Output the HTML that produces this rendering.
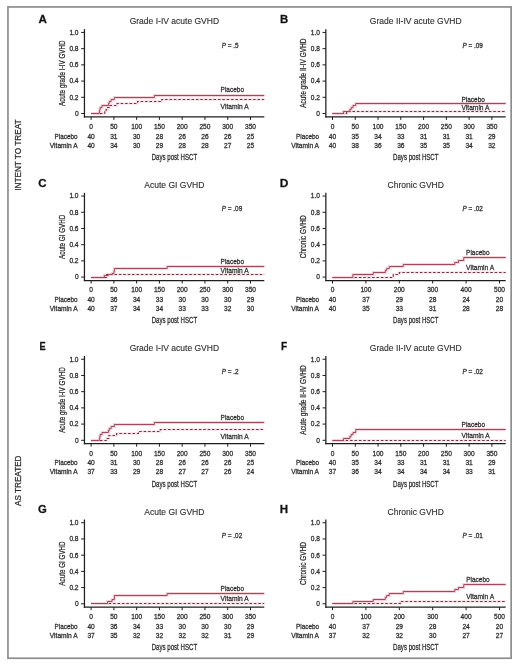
<!DOCTYPE html>
<html><head><meta charset="utf-8"><style>html,body{margin:0;padding:0;background:#fff;width:520px;height:665px;overflow:hidden}svg{display:block;will-change:transform}text{font-family:"Liberation Sans",sans-serif;stroke:#2e2e2e;stroke-width:0.26px;paint-order:stroke}.ti{stroke-width:0.12px}</style></head>
<body><svg width="520" height="665" viewBox="0 0 520 665" font-family="Liberation Sans, sans-serif" fill="#2e2e2e"><rect x="7.95" y="6.95" width="503.2" height="651.3" fill="none" stroke="#8d8d8d" stroke-width="1.7"/><text x="0.00" y="0.00" font-size="10.9" text-anchor="start" font-weight="bold" fill="#111" transform="translate(38.56,23.10) scale(1.068,1)">A</text><text x="174.38" y="24.40" font-size="8.52" text-anchor="middle" class="ti">Grade I-IV acute GVHD</text><line x1="84.45" y1="29.20" x2="84.45" y2="117.50" stroke="#1e1e1e" stroke-width="1.25"/><line x1="83.85" y1="116.90" x2="264.30" y2="116.90" stroke="#1e1e1e" stroke-width="1.25"/><line x1="81.15" y1="113.50" x2="84.45" y2="113.50" stroke="#1e1e1e" stroke-width="1.0"/><text x="78.55" y="115.85" font-size="6.6" text-anchor="end">0</text><line x1="81.15" y1="97.29" x2="84.45" y2="97.29" stroke="#1e1e1e" stroke-width="1.0"/><text x="78.55" y="99.64" font-size="6.6" text-anchor="end">0.2</text><line x1="81.15" y1="81.08" x2="84.45" y2="81.08" stroke="#1e1e1e" stroke-width="1.0"/><text x="78.55" y="83.43" font-size="6.6" text-anchor="end">0.4</text><line x1="81.15" y1="64.87" x2="84.45" y2="64.87" stroke="#1e1e1e" stroke-width="1.0"/><text x="78.55" y="67.22" font-size="6.6" text-anchor="end">0.6</text><line x1="81.15" y1="48.66" x2="84.45" y2="48.66" stroke="#1e1e1e" stroke-width="1.0"/><text x="78.55" y="51.01" font-size="6.6" text-anchor="end">0.8</text><line x1="81.15" y1="32.45" x2="84.45" y2="32.45" stroke="#1e1e1e" stroke-width="1.0"/><text x="78.55" y="34.80" font-size="6.6" text-anchor="end">1.0</text><line x1="91.10" y1="116.90" x2="91.10" y2="119.90" stroke="#1e1e1e" stroke-width="1.0"/><text x="91.10" y="128.80" font-size="6.6" text-anchor="middle">0</text><line x1="113.87" y1="116.90" x2="113.87" y2="119.90" stroke="#1e1e1e" stroke-width="1.0"/><text x="113.87" y="128.80" font-size="6.6" text-anchor="middle">50</text><line x1="136.64" y1="116.90" x2="136.64" y2="119.90" stroke="#1e1e1e" stroke-width="1.0"/><text x="136.64" y="128.80" font-size="6.6" text-anchor="middle">100</text><line x1="159.41" y1="116.90" x2="159.41" y2="119.90" stroke="#1e1e1e" stroke-width="1.0"/><text x="159.41" y="128.80" font-size="6.6" text-anchor="middle">150</text><line x1="182.18" y1="116.90" x2="182.18" y2="119.90" stroke="#1e1e1e" stroke-width="1.0"/><text x="182.18" y="128.80" font-size="6.6" text-anchor="middle">200</text><line x1="204.95" y1="116.90" x2="204.95" y2="119.90" stroke="#1e1e1e" stroke-width="1.0"/><text x="204.95" y="128.80" font-size="6.6" text-anchor="middle">250</text><line x1="227.72" y1="116.90" x2="227.72" y2="119.90" stroke="#1e1e1e" stroke-width="1.0"/><text x="227.72" y="128.80" font-size="6.6" text-anchor="middle">300</text><line x1="250.49" y1="116.90" x2="250.49" y2="119.90" stroke="#1e1e1e" stroke-width="1.0"/><text x="250.49" y="128.80" font-size="6.6" text-anchor="middle">350</text><text x="91.10" y="138.60" font-size="6.6" text-anchor="middle">40</text><text x="91.10" y="147.50" font-size="6.6" text-anchor="middle">40</text><text x="113.87" y="138.60" font-size="6.6" text-anchor="middle">31</text><text x="113.87" y="147.50" font-size="6.6" text-anchor="middle">34</text><text x="136.64" y="138.60" font-size="6.6" text-anchor="middle">30</text><text x="136.64" y="147.50" font-size="6.6" text-anchor="middle">30</text><text x="159.41" y="138.60" font-size="6.6" text-anchor="middle">28</text><text x="159.41" y="147.50" font-size="6.6" text-anchor="middle">29</text><text x="182.18" y="138.60" font-size="6.6" text-anchor="middle">26</text><text x="182.18" y="147.50" font-size="6.6" text-anchor="middle">28</text><text x="204.95" y="138.60" font-size="6.6" text-anchor="middle">26</text><text x="204.95" y="147.50" font-size="6.6" text-anchor="middle">28</text><text x="227.72" y="138.60" font-size="6.6" text-anchor="middle">26</text><text x="227.72" y="147.50" font-size="6.6" text-anchor="middle">27</text><text x="250.49" y="138.60" font-size="6.6" text-anchor="middle">25</text><text x="250.49" y="147.50" font-size="6.6" text-anchor="middle">25</text><text x="77.60" y="138.60" font-size="6.8" text-anchor="end" textLength="23.0" lengthAdjust="spacingAndGlyphs">Placebo</text><text x="77.60" y="147.50" font-size="6.8" text-anchor="end" textLength="27.8" lengthAdjust="spacingAndGlyphs">Vitamin A</text><text x="174.38" y="159.80" font-size="8.4" text-anchor="middle" textLength="45.5" lengthAdjust="spacingAndGlyphs">Days post HSCT</text><text x="0.00" y="0.00" font-size="8.3" text-anchor="middle" textLength="65.7" lengthAdjust="spacingAndGlyphs" transform="translate(64.50,73.20) rotate(-90)">Acute grade I-IV GVHD</text><text x="221.80" y="47.50" font-size="6.4"><tspan font-style="italic">P</tspan> = .5</text><path d="M91.10,113.50 L104.76,113.50 L104.76,111.50 L106.13,111.50 L106.13,109.50 L107.49,109.50 L107.49,107.50 L109.77,107.50 L109.77,105.50 L117.06,105.50 L117.06,103.50 L137.55,103.50 L137.55,101.50 L161.69,101.50 L161.69,99.50 L264.30,99.50" fill="none" stroke="#f9e1e6" stroke-width="2.6"/><path d="M91.10,113.50 L99.30,113.50 L99.30,111.50 L99.75,111.50 L99.75,109.50 L100.21,109.50 L100.21,107.50 L102.03,107.50 L102.03,105.50 L108.41,105.50 L108.41,103.50 L109.32,103.50 L109.32,101.50 L111.14,101.50 L111.14,99.50 L114.33,99.50 L114.33,97.50 L154.40,97.50 L154.40,95.50 L264.30,95.50" fill="none" stroke="#f6d2da" stroke-width="2.8"/><path d="M91.10,113.50 L104.76,113.50 L104.76,111.50 L106.13,111.50 L106.13,109.50 L107.49,109.50 L107.49,107.50 L109.77,107.50 L109.77,105.50 L117.06,105.50 L117.06,103.50 L137.55,103.50 L137.55,101.50 L161.69,101.50 L161.69,99.50 L264.30,99.50" fill="none" stroke="#6e3446" stroke-width="1.05" stroke-dasharray="2.5,1.9"/><path d="M91.10,113.50 L99.30,113.50 L99.30,111.50 L99.75,111.50 L99.75,109.50 L100.21,109.50 L100.21,107.50 L102.03,107.50 L102.03,105.50 L108.41,105.50 L108.41,103.50 L109.32,103.50 L109.32,101.50 L111.14,101.50 L111.14,99.50 L114.33,99.50 L114.33,97.50 L154.40,97.50 L154.40,95.50 L264.30,95.50" fill="none" stroke="#a2485d" stroke-width="1.0"/><text x="220.60" y="91.90" font-size="7.3" text-anchor="start" textLength="23.4" lengthAdjust="spacingAndGlyphs">Placebo</text><text x="220.60" y="109.10" font-size="7.3" text-anchor="start" textLength="28.0" lengthAdjust="spacingAndGlyphs">Vitamin A</text><text x="0.00" y="0.00" font-size="10.9" text-anchor="start" font-weight="bold" fill="#111" transform="translate(280.09,23.10) scale(1.039,1)">B</text><text x="415.78" y="24.40" font-size="8.52" text-anchor="middle" class="ti">Grade II-IV acute GVHD</text><line x1="325.85" y1="29.20" x2="325.85" y2="117.50" stroke="#1e1e1e" stroke-width="1.25"/><line x1="325.25" y1="116.90" x2="505.70" y2="116.90" stroke="#1e1e1e" stroke-width="1.25"/><line x1="322.55" y1="113.50" x2="325.85" y2="113.50" stroke="#1e1e1e" stroke-width="1.0"/><text x="319.95" y="115.85" font-size="6.6" text-anchor="end">0</text><line x1="322.55" y1="97.29" x2="325.85" y2="97.29" stroke="#1e1e1e" stroke-width="1.0"/><text x="319.95" y="99.64" font-size="6.6" text-anchor="end">0.2</text><line x1="322.55" y1="81.08" x2="325.85" y2="81.08" stroke="#1e1e1e" stroke-width="1.0"/><text x="319.95" y="83.43" font-size="6.6" text-anchor="end">0.4</text><line x1="322.55" y1="64.87" x2="325.85" y2="64.87" stroke="#1e1e1e" stroke-width="1.0"/><text x="319.95" y="67.22" font-size="6.6" text-anchor="end">0.6</text><line x1="322.55" y1="48.66" x2="325.85" y2="48.66" stroke="#1e1e1e" stroke-width="1.0"/><text x="319.95" y="51.01" font-size="6.6" text-anchor="end">0.8</text><line x1="322.55" y1="32.45" x2="325.85" y2="32.45" stroke="#1e1e1e" stroke-width="1.0"/><text x="319.95" y="34.80" font-size="6.6" text-anchor="end">1.0</text><line x1="332.50" y1="116.90" x2="332.50" y2="119.90" stroke="#1e1e1e" stroke-width="1.0"/><text x="332.50" y="128.80" font-size="6.6" text-anchor="middle">0</text><line x1="355.27" y1="116.90" x2="355.27" y2="119.90" stroke="#1e1e1e" stroke-width="1.0"/><text x="355.27" y="128.80" font-size="6.6" text-anchor="middle">50</text><line x1="378.04" y1="116.90" x2="378.04" y2="119.90" stroke="#1e1e1e" stroke-width="1.0"/><text x="378.04" y="128.80" font-size="6.6" text-anchor="middle">100</text><line x1="400.81" y1="116.90" x2="400.81" y2="119.90" stroke="#1e1e1e" stroke-width="1.0"/><text x="400.81" y="128.80" font-size="6.6" text-anchor="middle">150</text><line x1="423.58" y1="116.90" x2="423.58" y2="119.90" stroke="#1e1e1e" stroke-width="1.0"/><text x="423.58" y="128.80" font-size="6.6" text-anchor="middle">200</text><line x1="446.35" y1="116.90" x2="446.35" y2="119.90" stroke="#1e1e1e" stroke-width="1.0"/><text x="446.35" y="128.80" font-size="6.6" text-anchor="middle">250</text><line x1="469.12" y1="116.90" x2="469.12" y2="119.90" stroke="#1e1e1e" stroke-width="1.0"/><text x="469.12" y="128.80" font-size="6.6" text-anchor="middle">300</text><line x1="491.89" y1="116.90" x2="491.89" y2="119.90" stroke="#1e1e1e" stroke-width="1.0"/><text x="491.89" y="128.80" font-size="6.6" text-anchor="middle">350</text><text x="332.50" y="138.60" font-size="6.6" text-anchor="middle">40</text><text x="332.50" y="147.50" font-size="6.6" text-anchor="middle">40</text><text x="355.27" y="138.60" font-size="6.6" text-anchor="middle">35</text><text x="355.27" y="147.50" font-size="6.6" text-anchor="middle">38</text><text x="378.04" y="138.60" font-size="6.6" text-anchor="middle">34</text><text x="378.04" y="147.50" font-size="6.6" text-anchor="middle">36</text><text x="400.81" y="138.60" font-size="6.6" text-anchor="middle">33</text><text x="400.81" y="147.50" font-size="6.6" text-anchor="middle">36</text><text x="423.58" y="138.60" font-size="6.6" text-anchor="middle">31</text><text x="423.58" y="147.50" font-size="6.6" text-anchor="middle">35</text><text x="446.35" y="138.60" font-size="6.6" text-anchor="middle">31</text><text x="446.35" y="147.50" font-size="6.6" text-anchor="middle">35</text><text x="469.12" y="138.60" font-size="6.6" text-anchor="middle">31</text><text x="469.12" y="147.50" font-size="6.6" text-anchor="middle">34</text><text x="491.89" y="138.60" font-size="6.6" text-anchor="middle">29</text><text x="491.89" y="147.50" font-size="6.6" text-anchor="middle">32</text><text x="319.00" y="138.60" font-size="6.8" text-anchor="end" textLength="23.0" lengthAdjust="spacingAndGlyphs">Placebo</text><text x="319.00" y="147.50" font-size="6.8" text-anchor="end" textLength="27.8" lengthAdjust="spacingAndGlyphs">Vitamin A</text><text x="415.78" y="159.80" font-size="8.4" text-anchor="middle" textLength="45.5" lengthAdjust="spacingAndGlyphs">Days post HSCT</text><text x="0.00" y="0.00" font-size="8.3" text-anchor="middle" textLength="69.3" lengthAdjust="spacingAndGlyphs" transform="translate(305.90,73.20) rotate(-90)">Acute grade II-IV GVHD</text><text x="462.40" y="47.50" font-size="6.4"><tspan font-style="italic">P</tspan> = .09</text><path d="M332.50,113.50 L346.62,113.50 L346.62,111.50 L505.70,111.50" fill="none" stroke="#f9e1e6" stroke-width="2.6"/><path d="M332.50,113.50 L343.43,113.50 L343.43,111.50 L349.81,111.50 L349.81,109.50 L351.17,109.50 L351.17,107.50 L352.99,107.50 L352.99,105.50 L355.73,105.50 L355.73,103.50 L505.70,103.50" fill="none" stroke="#f6d2da" stroke-width="2.8"/><path d="M332.50,113.50 L346.62,113.50 L346.62,111.50 L505.70,111.50" fill="none" stroke="#6e3446" stroke-width="1.05" stroke-dasharray="2.5,1.9"/><path d="M332.50,113.50 L343.43,113.50 L343.43,111.50 L349.81,111.50 L349.81,109.50 L351.17,109.50 L351.17,107.50 L352.99,107.50 L352.99,105.50 L355.73,105.50 L355.73,103.50 L505.70,103.50" fill="none" stroke="#a2485d" stroke-width="1.0"/><text x="461.50" y="101.60" font-size="7.3" text-anchor="start" textLength="23.4" lengthAdjust="spacingAndGlyphs">Placebo</text><text x="461.50" y="110.10" font-size="7.3" text-anchor="start" textLength="28.0" lengthAdjust="spacingAndGlyphs">Vitamin A</text><text x="0.00" y="0.00" font-size="10.9" text-anchor="start" font-weight="bold" fill="#111" transform="translate(38.28,186.55) scale(1.055,1)">C</text><text x="174.38" y="188.00" font-size="8.52" text-anchor="middle" class="ti">Acute GI GVHD</text><line x1="84.45" y1="192.80" x2="84.45" y2="281.10" stroke="#1e1e1e" stroke-width="1.25"/><line x1="83.85" y1="280.50" x2="264.30" y2="280.50" stroke="#1e1e1e" stroke-width="1.25"/><line x1="81.15" y1="277.10" x2="84.45" y2="277.10" stroke="#1e1e1e" stroke-width="1.0"/><text x="78.55" y="279.45" font-size="6.6" text-anchor="end">0</text><line x1="81.15" y1="260.89" x2="84.45" y2="260.89" stroke="#1e1e1e" stroke-width="1.0"/><text x="78.55" y="263.24" font-size="6.6" text-anchor="end">0.2</text><line x1="81.15" y1="244.68" x2="84.45" y2="244.68" stroke="#1e1e1e" stroke-width="1.0"/><text x="78.55" y="247.03" font-size="6.6" text-anchor="end">0.4</text><line x1="81.15" y1="228.47" x2="84.45" y2="228.47" stroke="#1e1e1e" stroke-width="1.0"/><text x="78.55" y="230.82" font-size="6.6" text-anchor="end">0.6</text><line x1="81.15" y1="212.26" x2="84.45" y2="212.26" stroke="#1e1e1e" stroke-width="1.0"/><text x="78.55" y="214.61" font-size="6.6" text-anchor="end">0.8</text><line x1="81.15" y1="196.05" x2="84.45" y2="196.05" stroke="#1e1e1e" stroke-width="1.0"/><text x="78.55" y="198.40" font-size="6.6" text-anchor="end">1.0</text><line x1="91.10" y1="280.50" x2="91.10" y2="283.50" stroke="#1e1e1e" stroke-width="1.0"/><text x="91.10" y="292.40" font-size="6.6" text-anchor="middle">0</text><line x1="113.87" y1="280.50" x2="113.87" y2="283.50" stroke="#1e1e1e" stroke-width="1.0"/><text x="113.87" y="292.40" font-size="6.6" text-anchor="middle">50</text><line x1="136.64" y1="280.50" x2="136.64" y2="283.50" stroke="#1e1e1e" stroke-width="1.0"/><text x="136.64" y="292.40" font-size="6.6" text-anchor="middle">100</text><line x1="159.41" y1="280.50" x2="159.41" y2="283.50" stroke="#1e1e1e" stroke-width="1.0"/><text x="159.41" y="292.40" font-size="6.6" text-anchor="middle">150</text><line x1="182.18" y1="280.50" x2="182.18" y2="283.50" stroke="#1e1e1e" stroke-width="1.0"/><text x="182.18" y="292.40" font-size="6.6" text-anchor="middle">200</text><line x1="204.95" y1="280.50" x2="204.95" y2="283.50" stroke="#1e1e1e" stroke-width="1.0"/><text x="204.95" y="292.40" font-size="6.6" text-anchor="middle">250</text><line x1="227.72" y1="280.50" x2="227.72" y2="283.50" stroke="#1e1e1e" stroke-width="1.0"/><text x="227.72" y="292.40" font-size="6.6" text-anchor="middle">300</text><line x1="250.49" y1="280.50" x2="250.49" y2="283.50" stroke="#1e1e1e" stroke-width="1.0"/><text x="250.49" y="292.40" font-size="6.6" text-anchor="middle">350</text><text x="91.10" y="302.20" font-size="6.6" text-anchor="middle">40</text><text x="91.10" y="311.10" font-size="6.6" text-anchor="middle">40</text><text x="113.87" y="302.20" font-size="6.6" text-anchor="middle">36</text><text x="113.87" y="311.10" font-size="6.6" text-anchor="middle">37</text><text x="136.64" y="302.20" font-size="6.6" text-anchor="middle">34</text><text x="136.64" y="311.10" font-size="6.6" text-anchor="middle">34</text><text x="159.41" y="302.20" font-size="6.6" text-anchor="middle">33</text><text x="159.41" y="311.10" font-size="6.6" text-anchor="middle">34</text><text x="182.18" y="302.20" font-size="6.6" text-anchor="middle">30</text><text x="182.18" y="311.10" font-size="6.6" text-anchor="middle">33</text><text x="204.95" y="302.20" font-size="6.6" text-anchor="middle">30</text><text x="204.95" y="311.10" font-size="6.6" text-anchor="middle">33</text><text x="227.72" y="302.20" font-size="6.6" text-anchor="middle">30</text><text x="227.72" y="311.10" font-size="6.6" text-anchor="middle">32</text><text x="250.49" y="302.20" font-size="6.6" text-anchor="middle">29</text><text x="250.49" y="311.10" font-size="6.6" text-anchor="middle">30</text><text x="77.60" y="302.20" font-size="6.8" text-anchor="end" textLength="23.0" lengthAdjust="spacingAndGlyphs">Placebo</text><text x="77.60" y="311.10" font-size="6.8" text-anchor="end" textLength="27.8" lengthAdjust="spacingAndGlyphs">Vitamin A</text><text x="174.38" y="323.40" font-size="8.4" text-anchor="middle" textLength="45.5" lengthAdjust="spacingAndGlyphs">Days post HSCT</text><text x="0.00" y="0.00" font-size="8.3" text-anchor="middle" textLength="44.3" lengthAdjust="spacingAndGlyphs" transform="translate(64.50,236.80) rotate(-90)">Acute GI GVHD</text><text x="221.80" y="211.10" font-size="6.4"><tspan font-style="italic">P</tspan> = .09</text><path d="M91.10,277.50 L106.58,277.50 L106.58,274.50 L264.30,274.50" fill="none" stroke="#f9e1e6" stroke-width="2.6"/><path d="M91.10,277.50 L104.31,277.50 L104.31,275.50 L108.41,275.50 L108.41,274.50 L112.05,274.50 L112.05,273.50 L113.87,273.50 L113.87,271.50 L114.33,271.50 L114.33,268.50 L167.15,268.50 L167.15,266.50 L264.30,266.50" fill="none" stroke="#f6d2da" stroke-width="2.8"/><path d="M91.10,277.50 L106.58,277.50 L106.58,274.50 L264.30,274.50" fill="none" stroke="#6e3446" stroke-width="1.05" stroke-dasharray="2.5,1.9"/><path d="M91.10,277.50 L104.31,277.50 L104.31,275.50 L108.41,275.50 L108.41,274.50 L112.05,274.50 L112.05,273.50 L113.87,273.50 L113.87,271.50 L114.33,271.50 L114.33,268.50 L167.15,268.50 L167.15,266.50 L264.30,266.50" fill="none" stroke="#a2485d" stroke-width="1.0"/><text x="220.60" y="264.20" font-size="7.3" text-anchor="start" textLength="23.4" lengthAdjust="spacingAndGlyphs">Placebo</text><text x="220.60" y="273.40" font-size="7.3" text-anchor="start" textLength="28.0" lengthAdjust="spacingAndGlyphs">Vitamin A</text><text x="0.00" y="0.00" font-size="10.9" text-anchor="start" font-weight="bold" fill="#111" transform="translate(279.65,186.55) scale(1.094,1)">D</text><text x="415.78" y="188.00" font-size="8.52" text-anchor="middle" class="ti">Chronic GVHD</text><line x1="325.85" y1="192.80" x2="325.85" y2="281.10" stroke="#1e1e1e" stroke-width="1.25"/><line x1="325.25" y1="280.50" x2="505.70" y2="280.50" stroke="#1e1e1e" stroke-width="1.25"/><line x1="322.55" y1="277.10" x2="325.85" y2="277.10" stroke="#1e1e1e" stroke-width="1.0"/><text x="319.95" y="279.45" font-size="6.6" text-anchor="end">0</text><line x1="322.55" y1="260.89" x2="325.85" y2="260.89" stroke="#1e1e1e" stroke-width="1.0"/><text x="319.95" y="263.24" font-size="6.6" text-anchor="end">0.2</text><line x1="322.55" y1="244.68" x2="325.85" y2="244.68" stroke="#1e1e1e" stroke-width="1.0"/><text x="319.95" y="247.03" font-size="6.6" text-anchor="end">0.4</text><line x1="322.55" y1="228.47" x2="325.85" y2="228.47" stroke="#1e1e1e" stroke-width="1.0"/><text x="319.95" y="230.82" font-size="6.6" text-anchor="end">0.6</text><line x1="322.55" y1="212.26" x2="325.85" y2="212.26" stroke="#1e1e1e" stroke-width="1.0"/><text x="319.95" y="214.61" font-size="6.6" text-anchor="end">0.8</text><line x1="322.55" y1="196.05" x2="325.85" y2="196.05" stroke="#1e1e1e" stroke-width="1.0"/><text x="319.95" y="198.40" font-size="6.6" text-anchor="end">1.0</text><line x1="332.50" y1="280.50" x2="332.50" y2="283.50" stroke="#1e1e1e" stroke-width="1.0"/><text x="332.50" y="292.40" font-size="6.6" text-anchor="middle">0</text><line x1="365.90" y1="280.50" x2="365.90" y2="283.50" stroke="#1e1e1e" stroke-width="1.0"/><text x="365.90" y="292.40" font-size="6.6" text-anchor="middle">100</text><line x1="399.30" y1="280.50" x2="399.30" y2="283.50" stroke="#1e1e1e" stroke-width="1.0"/><text x="399.30" y="292.40" font-size="6.6" text-anchor="middle">200</text><line x1="432.70" y1="280.50" x2="432.70" y2="283.50" stroke="#1e1e1e" stroke-width="1.0"/><text x="432.70" y="292.40" font-size="6.6" text-anchor="middle">300</text><line x1="466.10" y1="280.50" x2="466.10" y2="283.50" stroke="#1e1e1e" stroke-width="1.0"/><text x="466.10" y="292.40" font-size="6.6" text-anchor="middle">400</text><line x1="499.50" y1="280.50" x2="499.50" y2="283.50" stroke="#1e1e1e" stroke-width="1.0"/><text x="499.50" y="292.40" font-size="6.6" text-anchor="middle">500</text><text x="332.50" y="302.20" font-size="6.6" text-anchor="middle">40</text><text x="332.50" y="311.10" font-size="6.6" text-anchor="middle">40</text><text x="365.90" y="302.20" font-size="6.6" text-anchor="middle">37</text><text x="365.90" y="311.10" font-size="6.6" text-anchor="middle">35</text><text x="399.30" y="302.20" font-size="6.6" text-anchor="middle">29</text><text x="399.30" y="311.10" font-size="6.6" text-anchor="middle">33</text><text x="432.70" y="302.20" font-size="6.6" text-anchor="middle">28</text><text x="432.70" y="311.10" font-size="6.6" text-anchor="middle">31</text><text x="466.10" y="302.20" font-size="6.6" text-anchor="middle">24</text><text x="466.10" y="311.10" font-size="6.6" text-anchor="middle">28</text><text x="499.50" y="302.20" font-size="6.6" text-anchor="middle">20</text><text x="499.50" y="311.10" font-size="6.6" text-anchor="middle">28</text><text x="319.00" y="302.20" font-size="6.8" text-anchor="end" textLength="23.0" lengthAdjust="spacingAndGlyphs">Placebo</text><text x="319.00" y="311.10" font-size="6.8" text-anchor="end" textLength="27.8" lengthAdjust="spacingAndGlyphs">Vitamin A</text><text x="415.78" y="323.40" font-size="8.4" text-anchor="middle" textLength="45.5" lengthAdjust="spacingAndGlyphs">Days post HSCT</text><text x="0.00" y="0.00" font-size="8.3" text-anchor="middle" textLength="42.9" lengthAdjust="spacingAndGlyphs" transform="translate(305.90,236.80) rotate(-90)">Chronic GVHD</text><text x="462.40" y="211.10" font-size="6.4"><tspan font-style="italic">P</tspan> = .02</text><path d="M332.50,277.50 L393.29,277.50 L393.29,274.50 L399.30,274.50 L399.30,272.50 L505.70,272.50" fill="none" stroke="#f9e1e6" stroke-width="2.6"/><path d="M332.50,277.50 L352.87,277.50 L352.87,274.50 L373.25,274.50 L373.25,272.50 L385.27,272.50 L385.27,270.50 L386.61,270.50 L386.61,268.50 L389.28,268.50 L389.28,266.50 L403.31,266.50 L403.31,264.50 L454.74,264.50 L454.74,262.50 L458.42,262.50 L458.42,260.50 L463.76,260.50 L463.76,257.50 L505.70,257.50" fill="none" stroke="#f6d2da" stroke-width="2.8"/><path d="M332.50,277.50 L393.29,277.50 L393.29,274.50 L399.30,274.50 L399.30,272.50 L505.70,272.50" fill="none" stroke="#6e3446" stroke-width="1.05" stroke-dasharray="2.5,1.9"/><path d="M332.50,277.50 L352.87,277.50 L352.87,274.50 L373.25,274.50 L373.25,272.50 L385.27,272.50 L385.27,270.50 L386.61,270.50 L386.61,268.50 L389.28,268.50 L389.28,266.50 L403.31,266.50 L403.31,264.50 L454.74,264.50 L454.74,262.50 L458.42,262.50 L458.42,260.50 L463.76,260.50 L463.76,257.50 L505.70,257.50" fill="none" stroke="#a2485d" stroke-width="1.0"/><text x="466.10" y="255.00" font-size="7.3" text-anchor="start" textLength="23.4" lengthAdjust="spacingAndGlyphs">Placebo</text><text x="466.10" y="270.30" font-size="7.3" text-anchor="start" textLength="28.0" lengthAdjust="spacingAndGlyphs">Vitamin A</text><text x="0.00" y="0.00" font-size="10.9" text-anchor="start" font-weight="bold" fill="#111" transform="translate(39.43,349.60) scale(0.852,1)">E</text><text x="174.38" y="351.20" font-size="8.52" text-anchor="middle" class="ti">Grade I-IV acute GVHD</text><line x1="84.45" y1="356.00" x2="84.45" y2="444.30" stroke="#1e1e1e" stroke-width="1.25"/><line x1="83.85" y1="443.70" x2="264.30" y2="443.70" stroke="#1e1e1e" stroke-width="1.25"/><line x1="81.15" y1="440.30" x2="84.45" y2="440.30" stroke="#1e1e1e" stroke-width="1.0"/><text x="78.55" y="442.65" font-size="6.6" text-anchor="end">0</text><line x1="81.15" y1="424.09" x2="84.45" y2="424.09" stroke="#1e1e1e" stroke-width="1.0"/><text x="78.55" y="426.44" font-size="6.6" text-anchor="end">0.2</text><line x1="81.15" y1="407.88" x2="84.45" y2="407.88" stroke="#1e1e1e" stroke-width="1.0"/><text x="78.55" y="410.23" font-size="6.6" text-anchor="end">0.4</text><line x1="81.15" y1="391.67" x2="84.45" y2="391.67" stroke="#1e1e1e" stroke-width="1.0"/><text x="78.55" y="394.02" font-size="6.6" text-anchor="end">0.6</text><line x1="81.15" y1="375.46" x2="84.45" y2="375.46" stroke="#1e1e1e" stroke-width="1.0"/><text x="78.55" y="377.81" font-size="6.6" text-anchor="end">0.8</text><line x1="81.15" y1="359.25" x2="84.45" y2="359.25" stroke="#1e1e1e" stroke-width="1.0"/><text x="78.55" y="361.60" font-size="6.6" text-anchor="end">1.0</text><line x1="91.10" y1="443.70" x2="91.10" y2="446.70" stroke="#1e1e1e" stroke-width="1.0"/><text x="91.10" y="455.60" font-size="6.6" text-anchor="middle">0</text><line x1="113.87" y1="443.70" x2="113.87" y2="446.70" stroke="#1e1e1e" stroke-width="1.0"/><text x="113.87" y="455.60" font-size="6.6" text-anchor="middle">50</text><line x1="136.64" y1="443.70" x2="136.64" y2="446.70" stroke="#1e1e1e" stroke-width="1.0"/><text x="136.64" y="455.60" font-size="6.6" text-anchor="middle">100</text><line x1="159.41" y1="443.70" x2="159.41" y2="446.70" stroke="#1e1e1e" stroke-width="1.0"/><text x="159.41" y="455.60" font-size="6.6" text-anchor="middle">150</text><line x1="182.18" y1="443.70" x2="182.18" y2="446.70" stroke="#1e1e1e" stroke-width="1.0"/><text x="182.18" y="455.60" font-size="6.6" text-anchor="middle">200</text><line x1="204.95" y1="443.70" x2="204.95" y2="446.70" stroke="#1e1e1e" stroke-width="1.0"/><text x="204.95" y="455.60" font-size="6.6" text-anchor="middle">250</text><line x1="227.72" y1="443.70" x2="227.72" y2="446.70" stroke="#1e1e1e" stroke-width="1.0"/><text x="227.72" y="455.60" font-size="6.6" text-anchor="middle">300</text><line x1="250.49" y1="443.70" x2="250.49" y2="446.70" stroke="#1e1e1e" stroke-width="1.0"/><text x="250.49" y="455.60" font-size="6.6" text-anchor="middle">350</text><text x="91.10" y="465.40" font-size="6.6" text-anchor="middle">40</text><text x="91.10" y="474.30" font-size="6.6" text-anchor="middle">37</text><text x="113.87" y="465.40" font-size="6.6" text-anchor="middle">31</text><text x="113.87" y="474.30" font-size="6.6" text-anchor="middle">33</text><text x="136.64" y="465.40" font-size="6.6" text-anchor="middle">30</text><text x="136.64" y="474.30" font-size="6.6" text-anchor="middle">29</text><text x="159.41" y="465.40" font-size="6.6" text-anchor="middle">28</text><text x="159.41" y="474.30" font-size="6.6" text-anchor="middle">28</text><text x="182.18" y="465.40" font-size="6.6" text-anchor="middle">26</text><text x="182.18" y="474.30" font-size="6.6" text-anchor="middle">27</text><text x="204.95" y="465.40" font-size="6.6" text-anchor="middle">26</text><text x="204.95" y="474.30" font-size="6.6" text-anchor="middle">27</text><text x="227.72" y="465.40" font-size="6.6" text-anchor="middle">26</text><text x="227.72" y="474.30" font-size="6.6" text-anchor="middle">26</text><text x="250.49" y="465.40" font-size="6.6" text-anchor="middle">25</text><text x="250.49" y="474.30" font-size="6.6" text-anchor="middle">24</text><text x="77.60" y="465.40" font-size="6.8" text-anchor="end" textLength="23.0" lengthAdjust="spacingAndGlyphs">Placebo</text><text x="77.60" y="474.30" font-size="6.8" text-anchor="end" textLength="27.8" lengthAdjust="spacingAndGlyphs">Vitamin A</text><text x="174.38" y="486.60" font-size="8.4" text-anchor="middle" textLength="45.5" lengthAdjust="spacingAndGlyphs">Days post HSCT</text><text x="0.00" y="0.00" font-size="8.3" text-anchor="middle" textLength="65.7" lengthAdjust="spacingAndGlyphs" transform="translate(64.50,400.00) rotate(-90)">Acute grade I-IV GVHD</text><text x="221.80" y="374.30" font-size="6.4"><tspan font-style="italic">P</tspan> = .2</text><path d="M91.10,440.50 L107.04,440.50 L107.04,438.50 L108.86,438.50 L108.86,435.50 L116.60,435.50 L116.60,433.50 L138.46,433.50 L138.46,431.50 L160.32,431.50 L160.32,429.50 L264.30,429.50" fill="none" stroke="#f9e1e6" stroke-width="2.6"/><path d="M91.10,440.50 L99.30,440.50 L99.30,438.50 L99.75,438.50 L99.75,436.50 L100.21,436.50 L100.21,434.50 L102.03,434.50 L102.03,432.50 L108.41,432.50 L108.41,430.50 L109.32,430.50 L109.32,428.50 L111.14,428.50 L111.14,426.50 L114.33,426.50 L114.33,424.50 L154.40,424.50 L154.40,422.50 L264.30,422.50" fill="none" stroke="#f6d2da" stroke-width="2.8"/><path d="M91.10,440.50 L107.04,440.50 L107.04,438.50 L108.86,438.50 L108.86,435.50 L116.60,435.50 L116.60,433.50 L138.46,433.50 L138.46,431.50 L160.32,431.50 L160.32,429.50 L264.30,429.50" fill="none" stroke="#6e3446" stroke-width="1.05" stroke-dasharray="2.5,1.9"/><path d="M91.10,440.50 L99.30,440.50 L99.30,438.50 L99.75,438.50 L99.75,436.50 L100.21,436.50 L100.21,434.50 L102.03,434.50 L102.03,432.50 L108.41,432.50 L108.41,430.50 L109.32,430.50 L109.32,428.50 L111.14,428.50 L111.14,426.50 L114.33,426.50 L114.33,424.50 L154.40,424.50 L154.40,422.50 L264.30,422.50" fill="none" stroke="#a2485d" stroke-width="1.0"/><text x="220.60" y="419.50" font-size="7.3" text-anchor="start" textLength="23.4" lengthAdjust="spacingAndGlyphs">Placebo</text><text x="220.60" y="438.80" font-size="7.3" text-anchor="start" textLength="28.0" lengthAdjust="spacingAndGlyphs">Vitamin A</text><text x="0.00" y="0.00" font-size="10.9" text-anchor="start" font-weight="bold" fill="#111" transform="translate(280.98,349.60) scale(0.924,1)">F</text><text x="415.78" y="351.20" font-size="8.52" text-anchor="middle" class="ti">Grade II-IV acute GVHD</text><line x1="325.85" y1="356.00" x2="325.85" y2="444.30" stroke="#1e1e1e" stroke-width="1.25"/><line x1="325.25" y1="443.70" x2="505.70" y2="443.70" stroke="#1e1e1e" stroke-width="1.25"/><line x1="322.55" y1="440.30" x2="325.85" y2="440.30" stroke="#1e1e1e" stroke-width="1.0"/><text x="319.95" y="442.65" font-size="6.6" text-anchor="end">0</text><line x1="322.55" y1="424.09" x2="325.85" y2="424.09" stroke="#1e1e1e" stroke-width="1.0"/><text x="319.95" y="426.44" font-size="6.6" text-anchor="end">0.2</text><line x1="322.55" y1="407.88" x2="325.85" y2="407.88" stroke="#1e1e1e" stroke-width="1.0"/><text x="319.95" y="410.23" font-size="6.6" text-anchor="end">0.4</text><line x1="322.55" y1="391.67" x2="325.85" y2="391.67" stroke="#1e1e1e" stroke-width="1.0"/><text x="319.95" y="394.02" font-size="6.6" text-anchor="end">0.6</text><line x1="322.55" y1="375.46" x2="325.85" y2="375.46" stroke="#1e1e1e" stroke-width="1.0"/><text x="319.95" y="377.81" font-size="6.6" text-anchor="end">0.8</text><line x1="322.55" y1="359.25" x2="325.85" y2="359.25" stroke="#1e1e1e" stroke-width="1.0"/><text x="319.95" y="361.60" font-size="6.6" text-anchor="end">1.0</text><line x1="332.50" y1="443.70" x2="332.50" y2="446.70" stroke="#1e1e1e" stroke-width="1.0"/><text x="332.50" y="455.60" font-size="6.6" text-anchor="middle">0</text><line x1="355.27" y1="443.70" x2="355.27" y2="446.70" stroke="#1e1e1e" stroke-width="1.0"/><text x="355.27" y="455.60" font-size="6.6" text-anchor="middle">50</text><line x1="378.04" y1="443.70" x2="378.04" y2="446.70" stroke="#1e1e1e" stroke-width="1.0"/><text x="378.04" y="455.60" font-size="6.6" text-anchor="middle">100</text><line x1="400.81" y1="443.70" x2="400.81" y2="446.70" stroke="#1e1e1e" stroke-width="1.0"/><text x="400.81" y="455.60" font-size="6.6" text-anchor="middle">150</text><line x1="423.58" y1="443.70" x2="423.58" y2="446.70" stroke="#1e1e1e" stroke-width="1.0"/><text x="423.58" y="455.60" font-size="6.6" text-anchor="middle">200</text><line x1="446.35" y1="443.70" x2="446.35" y2="446.70" stroke="#1e1e1e" stroke-width="1.0"/><text x="446.35" y="455.60" font-size="6.6" text-anchor="middle">250</text><line x1="469.12" y1="443.70" x2="469.12" y2="446.70" stroke="#1e1e1e" stroke-width="1.0"/><text x="469.12" y="455.60" font-size="6.6" text-anchor="middle">300</text><line x1="491.89" y1="443.70" x2="491.89" y2="446.70" stroke="#1e1e1e" stroke-width="1.0"/><text x="491.89" y="455.60" font-size="6.6" text-anchor="middle">350</text><text x="332.50" y="465.40" font-size="6.6" text-anchor="middle">40</text><text x="332.50" y="474.30" font-size="6.6" text-anchor="middle">37</text><text x="355.27" y="465.40" font-size="6.6" text-anchor="middle">35</text><text x="355.27" y="474.30" font-size="6.6" text-anchor="middle">36</text><text x="378.04" y="465.40" font-size="6.6" text-anchor="middle">34</text><text x="378.04" y="474.30" font-size="6.6" text-anchor="middle">34</text><text x="400.81" y="465.40" font-size="6.6" text-anchor="middle">33</text><text x="400.81" y="474.30" font-size="6.6" text-anchor="middle">34</text><text x="423.58" y="465.40" font-size="6.6" text-anchor="middle">31</text><text x="423.58" y="474.30" font-size="6.6" text-anchor="middle">34</text><text x="446.35" y="465.40" font-size="6.6" text-anchor="middle">31</text><text x="446.35" y="474.30" font-size="6.6" text-anchor="middle">34</text><text x="469.12" y="465.40" font-size="6.6" text-anchor="middle">31</text><text x="469.12" y="474.30" font-size="6.6" text-anchor="middle">33</text><text x="491.89" y="465.40" font-size="6.6" text-anchor="middle">29</text><text x="491.89" y="474.30" font-size="6.6" text-anchor="middle">31</text><text x="319.00" y="465.40" font-size="6.8" text-anchor="end" textLength="23.0" lengthAdjust="spacingAndGlyphs">Placebo</text><text x="319.00" y="474.30" font-size="6.8" text-anchor="end" textLength="27.8" lengthAdjust="spacingAndGlyphs">Vitamin A</text><text x="415.78" y="486.60" font-size="8.4" text-anchor="middle" textLength="45.5" lengthAdjust="spacingAndGlyphs">Days post HSCT</text><text x="0.00" y="0.00" font-size="8.3" text-anchor="middle" textLength="69.3" lengthAdjust="spacingAndGlyphs" transform="translate(305.90,400.00) rotate(-90)">Acute grade II-IV GVHD</text><text x="462.40" y="374.30" font-size="6.4"><tspan font-style="italic">P</tspan> = .02</text><path d="M332.50,440.50 L505.70,440.50" fill="none" stroke="#f9e1e6" stroke-width="2.6"/><path d="M332.50,440.50 L343.43,440.50 L343.43,438.50 L349.81,438.50 L349.81,436.50 L351.17,436.50 L351.17,434.50 L352.99,434.50 L352.99,432.50 L355.73,432.50 L355.73,429.50 L505.70,429.50" fill="none" stroke="#f6d2da" stroke-width="2.8"/><path d="M332.50,440.50 L505.70,440.50" fill="none" stroke="#6e3446" stroke-width="1.05" stroke-dasharray="2.5,1.9"/><path d="M332.50,440.50 L343.43,440.50 L343.43,438.50 L349.81,438.50 L349.81,436.50 L351.17,436.50 L351.17,434.50 L352.99,434.50 L352.99,432.50 L355.73,432.50 L355.73,429.50 L505.70,429.50" fill="none" stroke="#a2485d" stroke-width="1.0"/><text x="461.60" y="427.40" font-size="7.3" text-anchor="start" textLength="23.4" lengthAdjust="spacingAndGlyphs">Placebo</text><text x="461.60" y="438.30" font-size="7.3" text-anchor="start" textLength="28.0" lengthAdjust="spacingAndGlyphs">Vitamin A</text><text x="0.00" y="0.00" font-size="10.9" text-anchor="start" font-weight="bold" fill="#111" transform="translate(37.98,512.95) scale(1.035,1)">G</text><text x="174.38" y="514.70" font-size="8.52" text-anchor="middle" class="ti">Acute GI GVHD</text><line x1="84.45" y1="519.50" x2="84.45" y2="607.80" stroke="#1e1e1e" stroke-width="1.25"/><line x1="83.85" y1="607.20" x2="264.30" y2="607.20" stroke="#1e1e1e" stroke-width="1.25"/><line x1="81.15" y1="603.80" x2="84.45" y2="603.80" stroke="#1e1e1e" stroke-width="1.0"/><text x="78.55" y="606.15" font-size="6.6" text-anchor="end">0</text><line x1="81.15" y1="587.59" x2="84.45" y2="587.59" stroke="#1e1e1e" stroke-width="1.0"/><text x="78.55" y="589.94" font-size="6.6" text-anchor="end">0.2</text><line x1="81.15" y1="571.38" x2="84.45" y2="571.38" stroke="#1e1e1e" stroke-width="1.0"/><text x="78.55" y="573.73" font-size="6.6" text-anchor="end">0.4</text><line x1="81.15" y1="555.17" x2="84.45" y2="555.17" stroke="#1e1e1e" stroke-width="1.0"/><text x="78.55" y="557.52" font-size="6.6" text-anchor="end">0.6</text><line x1="81.15" y1="538.96" x2="84.45" y2="538.96" stroke="#1e1e1e" stroke-width="1.0"/><text x="78.55" y="541.31" font-size="6.6" text-anchor="end">0.8</text><line x1="81.15" y1="522.75" x2="84.45" y2="522.75" stroke="#1e1e1e" stroke-width="1.0"/><text x="78.55" y="525.10" font-size="6.6" text-anchor="end">1.0</text><line x1="91.10" y1="607.20" x2="91.10" y2="610.20" stroke="#1e1e1e" stroke-width="1.0"/><text x="91.10" y="619.10" font-size="6.6" text-anchor="middle">0</text><line x1="113.87" y1="607.20" x2="113.87" y2="610.20" stroke="#1e1e1e" stroke-width="1.0"/><text x="113.87" y="619.10" font-size="6.6" text-anchor="middle">50</text><line x1="136.64" y1="607.20" x2="136.64" y2="610.20" stroke="#1e1e1e" stroke-width="1.0"/><text x="136.64" y="619.10" font-size="6.6" text-anchor="middle">100</text><line x1="159.41" y1="607.20" x2="159.41" y2="610.20" stroke="#1e1e1e" stroke-width="1.0"/><text x="159.41" y="619.10" font-size="6.6" text-anchor="middle">150</text><line x1="182.18" y1="607.20" x2="182.18" y2="610.20" stroke="#1e1e1e" stroke-width="1.0"/><text x="182.18" y="619.10" font-size="6.6" text-anchor="middle">200</text><line x1="204.95" y1="607.20" x2="204.95" y2="610.20" stroke="#1e1e1e" stroke-width="1.0"/><text x="204.95" y="619.10" font-size="6.6" text-anchor="middle">250</text><line x1="227.72" y1="607.20" x2="227.72" y2="610.20" stroke="#1e1e1e" stroke-width="1.0"/><text x="227.72" y="619.10" font-size="6.6" text-anchor="middle">300</text><line x1="250.49" y1="607.20" x2="250.49" y2="610.20" stroke="#1e1e1e" stroke-width="1.0"/><text x="250.49" y="619.10" font-size="6.6" text-anchor="middle">350</text><text x="91.10" y="628.90" font-size="6.6" text-anchor="middle">40</text><text x="91.10" y="637.80" font-size="6.6" text-anchor="middle">37</text><text x="113.87" y="628.90" font-size="6.6" text-anchor="middle">36</text><text x="113.87" y="637.80" font-size="6.6" text-anchor="middle">35</text><text x="136.64" y="628.90" font-size="6.6" text-anchor="middle">34</text><text x="136.64" y="637.80" font-size="6.6" text-anchor="middle">32</text><text x="159.41" y="628.90" font-size="6.6" text-anchor="middle">33</text><text x="159.41" y="637.80" font-size="6.6" text-anchor="middle">32</text><text x="182.18" y="628.90" font-size="6.6" text-anchor="middle">30</text><text x="182.18" y="637.80" font-size="6.6" text-anchor="middle">32</text><text x="204.95" y="628.90" font-size="6.6" text-anchor="middle">30</text><text x="204.95" y="637.80" font-size="6.6" text-anchor="middle">32</text><text x="227.72" y="628.90" font-size="6.6" text-anchor="middle">30</text><text x="227.72" y="637.80" font-size="6.6" text-anchor="middle">31</text><text x="250.49" y="628.90" font-size="6.6" text-anchor="middle">29</text><text x="250.49" y="637.80" font-size="6.6" text-anchor="middle">29</text><text x="77.60" y="628.90" font-size="6.8" text-anchor="end" textLength="23.0" lengthAdjust="spacingAndGlyphs">Placebo</text><text x="77.60" y="637.80" font-size="6.8" text-anchor="end" textLength="27.8" lengthAdjust="spacingAndGlyphs">Vitamin A</text><text x="174.38" y="650.10" font-size="8.4" text-anchor="middle" textLength="45.5" lengthAdjust="spacingAndGlyphs">Days post HSCT</text><text x="0.00" y="0.00" font-size="8.3" text-anchor="middle" textLength="44.3" lengthAdjust="spacingAndGlyphs" transform="translate(64.50,563.50) rotate(-90)">Acute GI GVHD</text><text x="221.80" y="537.80" font-size="6.4"><tspan font-style="italic">P</tspan> = .02</text><path d="M91.10,603.50 L264.30,603.50" fill="none" stroke="#f9e1e6" stroke-width="2.6"/><path d="M91.10,603.50 L107.49,603.50 L107.49,601.50 L112.05,601.50 L112.05,599.50 L114.33,599.50 L114.33,595.50 L167.15,595.50 L167.15,593.50 L264.30,593.50" fill="none" stroke="#f6d2da" stroke-width="2.8"/><path d="M91.10,603.50 L264.30,603.50" fill="none" stroke="#6e3446" stroke-width="1.05" stroke-dasharray="2.5,1.9"/><path d="M91.10,603.50 L107.49,603.50 L107.49,601.50 L112.05,601.50 L112.05,599.50 L114.33,599.50 L114.33,595.50 L167.15,595.50 L167.15,593.50 L264.30,593.50" fill="none" stroke="#a2485d" stroke-width="1.0"/><text x="220.60" y="590.70" font-size="7.3" text-anchor="start" textLength="23.4" lengthAdjust="spacingAndGlyphs">Placebo</text><text x="220.60" y="600.80" font-size="7.3" text-anchor="start" textLength="28.0" lengthAdjust="spacingAndGlyphs">Vitamin A</text><text x="0.00" y="0.00" font-size="10.9" text-anchor="start" font-weight="bold" fill="#111" transform="translate(279.87,512.95) scale(1.062,1)">H</text><text x="415.78" y="514.70" font-size="8.52" text-anchor="middle" class="ti">Chronic GVHD</text><line x1="325.85" y1="519.50" x2="325.85" y2="607.80" stroke="#1e1e1e" stroke-width="1.25"/><line x1="325.25" y1="607.20" x2="505.70" y2="607.20" stroke="#1e1e1e" stroke-width="1.25"/><line x1="322.55" y1="603.80" x2="325.85" y2="603.80" stroke="#1e1e1e" stroke-width="1.0"/><text x="319.95" y="606.15" font-size="6.6" text-anchor="end">0</text><line x1="322.55" y1="587.59" x2="325.85" y2="587.59" stroke="#1e1e1e" stroke-width="1.0"/><text x="319.95" y="589.94" font-size="6.6" text-anchor="end">0.2</text><line x1="322.55" y1="571.38" x2="325.85" y2="571.38" stroke="#1e1e1e" stroke-width="1.0"/><text x="319.95" y="573.73" font-size="6.6" text-anchor="end">0.4</text><line x1="322.55" y1="555.17" x2="325.85" y2="555.17" stroke="#1e1e1e" stroke-width="1.0"/><text x="319.95" y="557.52" font-size="6.6" text-anchor="end">0.6</text><line x1="322.55" y1="538.96" x2="325.85" y2="538.96" stroke="#1e1e1e" stroke-width="1.0"/><text x="319.95" y="541.31" font-size="6.6" text-anchor="end">0.8</text><line x1="322.55" y1="522.75" x2="325.85" y2="522.75" stroke="#1e1e1e" stroke-width="1.0"/><text x="319.95" y="525.10" font-size="6.6" text-anchor="end">1.0</text><line x1="332.50" y1="607.20" x2="332.50" y2="610.20" stroke="#1e1e1e" stroke-width="1.0"/><text x="332.50" y="619.10" font-size="6.6" text-anchor="middle">0</text><line x1="365.90" y1="607.20" x2="365.90" y2="610.20" stroke="#1e1e1e" stroke-width="1.0"/><text x="365.90" y="619.10" font-size="6.6" text-anchor="middle">100</text><line x1="399.30" y1="607.20" x2="399.30" y2="610.20" stroke="#1e1e1e" stroke-width="1.0"/><text x="399.30" y="619.10" font-size="6.6" text-anchor="middle">200</text><line x1="432.70" y1="607.20" x2="432.70" y2="610.20" stroke="#1e1e1e" stroke-width="1.0"/><text x="432.70" y="619.10" font-size="6.6" text-anchor="middle">300</text><line x1="466.10" y1="607.20" x2="466.10" y2="610.20" stroke="#1e1e1e" stroke-width="1.0"/><text x="466.10" y="619.10" font-size="6.6" text-anchor="middle">400</text><line x1="499.50" y1="607.20" x2="499.50" y2="610.20" stroke="#1e1e1e" stroke-width="1.0"/><text x="499.50" y="619.10" font-size="6.6" text-anchor="middle">500</text><text x="332.50" y="628.90" font-size="6.6" text-anchor="middle">40</text><text x="332.50" y="637.80" font-size="6.6" text-anchor="middle">37</text><text x="365.90" y="628.90" font-size="6.6" text-anchor="middle">37</text><text x="365.90" y="637.80" font-size="6.6" text-anchor="middle">32</text><text x="399.30" y="628.90" font-size="6.6" text-anchor="middle">29</text><text x="399.30" y="637.80" font-size="6.6" text-anchor="middle">32</text><text x="432.70" y="628.90" font-size="6.6" text-anchor="middle">28</text><text x="432.70" y="637.80" font-size="6.6" text-anchor="middle">30</text><text x="466.10" y="628.90" font-size="6.6" text-anchor="middle">24</text><text x="466.10" y="637.80" font-size="6.6" text-anchor="middle">27</text><text x="499.50" y="628.90" font-size="6.6" text-anchor="middle">20</text><text x="499.50" y="637.80" font-size="6.6" text-anchor="middle">27</text><text x="319.00" y="628.90" font-size="6.8" text-anchor="end" textLength="23.0" lengthAdjust="spacingAndGlyphs">Placebo</text><text x="319.00" y="637.80" font-size="6.8" text-anchor="end" textLength="27.8" lengthAdjust="spacingAndGlyphs">Vitamin A</text><text x="415.78" y="650.10" font-size="8.4" text-anchor="middle" textLength="45.5" lengthAdjust="spacingAndGlyphs">Days post HSCT</text><text x="0.00" y="0.00" font-size="8.3" text-anchor="middle" textLength="42.9" lengthAdjust="spacingAndGlyphs" transform="translate(305.90,563.50) rotate(-90)">Chronic GVHD</text><text x="462.40" y="537.80" font-size="6.4"><tspan font-style="italic">P</tspan> = .01</text><path d="M332.50,603.50 L400.30,603.50 L400.30,601.50 L505.70,601.50" fill="none" stroke="#f9e1e6" stroke-width="2.6"/><path d="M332.50,603.50 L352.87,603.50 L352.87,601.50 L373.25,601.50 L373.25,599.50 L385.27,599.50 L385.27,597.50 L386.61,597.50 L386.61,595.50 L389.28,595.50 L389.28,593.50 L403.31,593.50 L403.31,591.50 L454.74,591.50 L454.74,589.50 L458.42,589.50 L458.42,587.50 L463.76,587.50 L463.76,584.50 L505.70,584.50" fill="none" stroke="#f6d2da" stroke-width="2.8"/><path d="M332.50,603.50 L400.30,603.50 L400.30,601.50 L505.70,601.50" fill="none" stroke="#6e3446" stroke-width="1.05" stroke-dasharray="2.5,1.9"/><path d="M332.50,603.50 L352.87,603.50 L352.87,601.50 L373.25,601.50 L373.25,599.50 L385.27,599.50 L385.27,597.50 L386.61,597.50 L386.61,595.50 L389.28,595.50 L389.28,593.50 L403.31,593.50 L403.31,591.50 L454.74,591.50 L454.74,589.50 L458.42,589.50 L458.42,587.50 L463.76,587.50 L463.76,584.50 L505.70,584.50" fill="none" stroke="#a2485d" stroke-width="1.0"/><text x="466.20" y="581.50" font-size="7.3" text-anchor="start" textLength="23.4" lengthAdjust="spacingAndGlyphs">Placebo</text><text x="466.20" y="598.50" font-size="7.3" text-anchor="start" textLength="28.0" lengthAdjust="spacingAndGlyphs">Vitamin A</text><text x="0.00" y="0.00" font-size="9" text-anchor="start" textLength="71.4" lengthAdjust="spacingAndGlyphs" transform="translate(21.4,190.8) rotate(-90)">INTENT TO TREAT</text><text x="0.00" y="0.00" font-size="9" text-anchor="start" textLength="50.5" lengthAdjust="spacingAndGlyphs" transform="translate(21.4,506) rotate(-90)">AS TREATED</text></svg></body></html>
